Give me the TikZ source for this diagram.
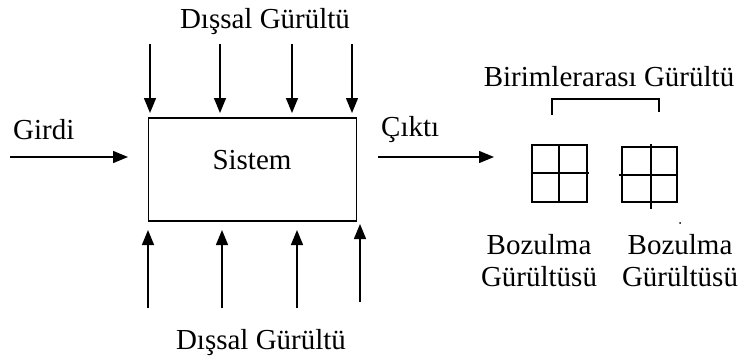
\documentclass[tikz,border=0pt]{standalone}
\usepackage{fontspec}
\setmainfont{Liberation Serif}
\usetikzlibrary{arrows.meta}
\begin{document}
\begin{tikzpicture}[x=1pt,y=-1pt,
  lbl/.style={inner sep=0pt,font=\fontsize{29}{33}\selectfont},
  flow/.style={line width=1.4pt,-{Triangle[width=12pt,length=15pt]}},
  thin/.style={line width=1.4pt}]
\useasboundingbox[fill=white] (0,0) rectangle (741,360);

% system block
\node[draw,line width=1.4pt,minimum width=208pt,minimum height=103pt,inner sep=0pt] (sys) at (252.5,169.5) {};
\node[lbl] (sysl) at (252,160) {Sistem};

% external noise labels
\node[lbl] (ntop) at (265,22) {Dışsal Gürültü};
\node[lbl] (nbot) at (261,343) {Dışsal Gürültü};

% noise arrows above the block
\foreach \i/\x in {1/150,2/220,3/292,4/352}{
  \coordinate (ts\i) at (\x,44);
  \coordinate (te\i) at (\x,113);
  \draw[flow] (ts\i) -- (te\i);
}
% noise arrows below the block
\foreach \i/\x/\a/\b in {1/148/308/230,2/222/308/230,3/297/308/230,4/360/302/224}{
  \coordinate (bs\i) at (\x,\a);
  \coordinate (be\i) at (\x,\b);
  \draw[flow] (bs\i) -- (be\i);
}

% input and output
\node[lbl,anchor=west] (in) at (13,130) {Girdi};
\coordinate (ins) at (10,157);
\coordinate (ine) at (128,157);
\draw[flow] (ins) -- (ine);
\node[lbl,anchor=west] (out) at (381,130) {Çıktı};
\coordinate (outs) at (378,157);
\coordinate (oute) at (494,157);
\draw[flow] (outs) -- (oute);

% unit grids
\draw[thin] (532,145) rectangle (587,202);
\coordinate (g1t) at (559,145); \coordinate (g1b) at (559,202);
\coordinate (g1l) at (532,173); \coordinate (g1r) at (589,173);
\draw[thin] (g1t) -- (g1b) (g1l) -- (g1r);

\draw[thin] (622,147) rectangle (677,202);
\coordinate (g2t) at (651,144); \coordinate (g2b) at (651,209);
\coordinate (g2l) at (619,175); \coordinate (g2r) at (677,175);
\draw[thin] (g2t) -- (g2b) (g2l) -- (g2r);

% inter-unit bracket
\node[lbl] (iu) at (609,77) {Birimlerarası Gürültü};
\coordinate (br1) at (552,115); \coordinate (br2) at (552,99);
\coordinate (br3) at (659,99);  \coordinate (br4) at (659,112);
\draw[thin] (br1) -- (br2) -- (br3) -- (br4);

% distortion noise labels
\node[lbl,align=center] (d1) at (539,261) {Bozulma\\[-1pt]Gürültüsü};
\node[lbl,align=center] (d2) at (680,261) {Bozulma\\[-1pt]Gürültüsü};
\fill (680,223) circle (1pt);
\end{tikzpicture}
\end{document}
